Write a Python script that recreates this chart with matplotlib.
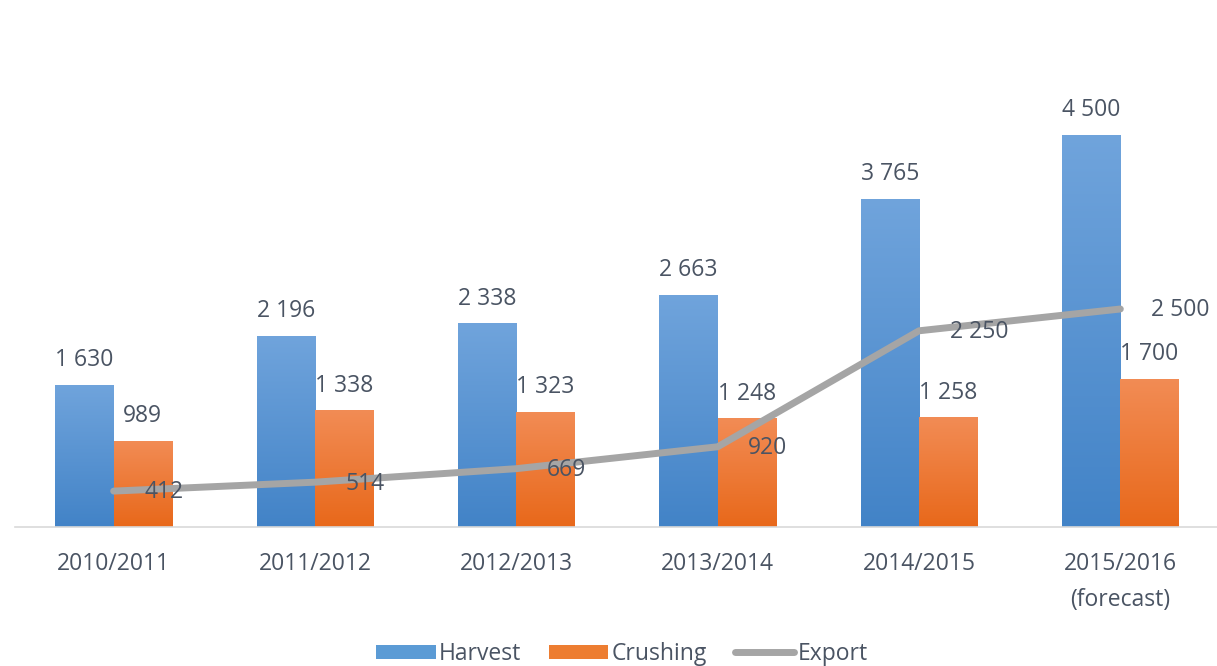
import numpy as np
import matplotlib.pyplot as plt
from matplotlib.patches import Patch
from matplotlib.lines import Line2D
from matplotlib.colors import LinearSegmentedColormap

seasons = ["2010/2011", "2011/2012", "2012/2013", "2013/2014", "2014/2015", "2015/2016\n(forecast)"]
harvest = [1630, 2196, 2338, 2663, 3765, 4500]
crushing = [989, 1338, 1323, 1248, 1258, 1700]
export = [412, 514, 669, 920, 2250, 2500]

TEXT = "#4a5463"
BLUE_TOP, BLUE_BOT = "#70a4dc", "#4283c7"
ORANGE_TOP, ORANGE_BOT = "#f28c55", "#e8681a"
GREY = "#a5a5a5"


def fmt(v):
    return f"{v:,}".replace(",", " ")


def gradient_bars(ax, bars, top, bottom):
    cmap = LinearSegmentedColormap.from_list("g", [bottom, top])
    grad = np.linspace(0, 1, 256).reshape(-1, 1)
    for b in bars:
        x0, y0 = b.get_x(), b.get_y()
        w, h = b.get_width(), b.get_height()
        b.set_facecolor("none")
        b.set_edgecolor("none")
        im = ax.imshow(grad, cmap=cmap, aspect="auto", origin="lower",
                       extent=(x0, x0 + w, y0, y0 + h), zorder=1)
        im.set_clip_path(b)


plt.rcParams["font.family"] = ["Open Sans", "DejaVu Sans"]

fig = plt.figure(figsize=(12.17, 6.66), dpi=100)
ax = fig.add_axes([15 / 1217, 139 / 666, 1204 / 1217, 436 / 666])

x = np.arange(len(seasons))
w = 0.29
hb = ax.bar(x - w / 2, harvest, w, zorder=1)
cb = ax.bar(x + w / 2, crushing, w, zorder=1)
gradient_bars(ax, hb, BLUE_TOP, BLUE_BOT)
gradient_bars(ax, cb, ORANGE_TOP, ORANGE_BOT)

ax.plot(x, export, color=GREY, lw=5, solid_capstyle="round", zorder=3)

fs = 16.5
for xi, v in zip(x - w / 2, harvest):
    ax.annotate(fmt(v), (xi, v), xytext=(0, 9), textcoords="offset points",
                ha="center", va="bottom", fontsize=fs, color=TEXT, zorder=4)
for xi, v in zip(x + w / 2, crushing):
    ax.annotate(fmt(v), (xi, v), xytext=(0, 9), textcoords="offset points",
                ha="center", va="bottom", fontsize=fs, color=TEXT, zorder=4)
for xi, v in zip(x, export):
    ax.annotate(fmt(v), (xi, v), xytext=(22, -1), textcoords="offset points",
                ha="left", va="center", fontsize=fs, color=TEXT, zorder=4)

ax.set_xlim(-0.49, 5.49)
ax.set_ylim(0, 5000)
ax.set_xticks(x)
ax.set_xticklabels(seasons, fontsize=fs, color=TEXT, linespacing=1.65)
ax.tick_params(axis="x", length=0, pad=18)
ax.set_yticks([])
for s in ["top", "right", "left"]:
    ax.spines[s].set_visible(False)
ax.spines["bottom"].set_color("#d9d9d9")
ax.spines["bottom"].set_linewidth(1.2)

handles = [
    Patch(facecolor="#5b9bd5", label="Harvest"),
    Patch(facecolor="#ed7d31", label="Crushing"),
    Line2D([0], [0], color=GREY, lw=5, solid_capstyle="round", label="Export"),
]
fig.legend(handles=handles, loc="center", bbox_to_anchor=(0.511, 12 / 666), ncol=3,
           frameon=False, fontsize=fs, labelcolor=TEXT, handlelength=2.6,
           handleheight=0.6, handletextpad=0.15, columnspacing=1.2)

fig.savefig("out.png", dpi=100)
